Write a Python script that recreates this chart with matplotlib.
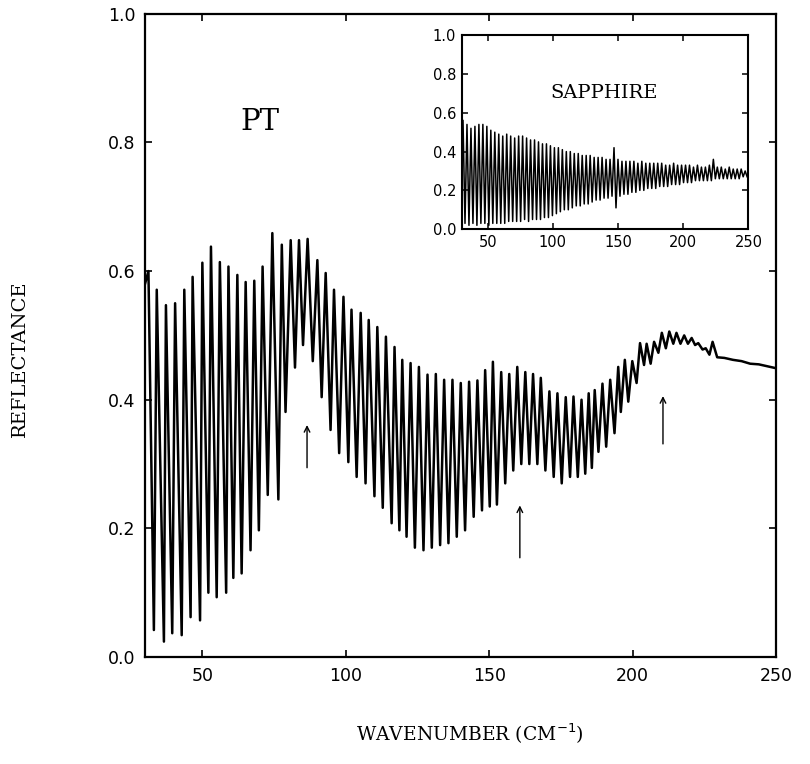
import numpy as np
import matplotlib.pyplot as plt

# PT film: wavenumber (cm^-1) and reflectance at each fringe top / bottom
pt_wn = [30.0, 31.2, 33.1, 34.1, 36.6, 37.3, 39.5, 40.5, 42.8, 43.7, 45.9, 46.6, 49.2,
         50.0, 52.1, 53.0, 55.0, 56.1, 58.3, 59.1, 60.8, 62.2, 63.7, 65.1, 66.8, 68.1,
         69.7, 71.0, 72.8, 74.4, 76.5, 77.7, 79.0, 80.8, 82.3, 83.7, 85.1, 86.7, 88.5,
         90.1, 91.6, 93.0, 94.7, 95.9, 97.7, 99.2, 100.9, 102.0, 103.8, 105.2, 106.9,
         108.0, 110.0, 111.0, 112.9, 114.0, 116.0, 117.0, 118.7, 119.7, 121.2, 122.6,
         124.1, 125.5, 127.1, 128.5, 130.0, 131.4, 132.9, 134.3, 135.8, 137.2, 138.7,
         140.1, 141.6, 143.0, 144.6, 145.9, 147.5, 148.6, 150.2, 151.3, 152.7, 154.2,
         155.6, 157.0, 158.4, 159.8, 161.2, 162.6, 164.0, 165.3, 166.8, 168.0, 169.6,
         171.0, 172.5, 173.8, 175.3, 176.7, 178.2, 179.4, 180.9, 182.2, 183.5, 184.7,
         185.8, 186.8, 188.1, 189.5, 190.8, 192.2, 193.7, 195.0, 195.9, 197.3, 198.5,
         199.9, 201.4, 202.6, 204.0, 204.9, 206.3, 207.5, 209.0, 210.2, 211.6, 212.8,
         214.2, 215.3, 216.7, 218.0, 219.3, 220.6, 221.8, 222.9, 224.4, 225.5, 226.8,
         227.9, 229.5, 232.0, 235.0, 238.0, 241.0, 244.0, 247.0, 250.0]
pt_r = [0.58, 0.60, 0.042, 0.571, 0.024, 0.547, 0.037, 0.55, 0.034, 0.571, 0.062, 0.591, 0.057,
        0.613, 0.10, 0.638, 0.093, 0.614, 0.10, 0.607, 0.123, 0.594, 0.13, 0.583, 0.166, 0.585,
        0.197, 0.607, 0.252, 0.659, 0.245, 0.641, 0.381, 0.648, 0.45, 0.648, 0.485, 0.65, 0.46,
        0.617, 0.404, 0.597, 0.353, 0.571, 0.317, 0.56, 0.303, 0.54, 0.28, 0.535, 0.27,
        0.524, 0.25, 0.513, 0.232, 0.498, 0.208, 0.482, 0.197, 0.462, 0.187, 0.457,
        0.17, 0.451, 0.166, 0.439, 0.17, 0.44, 0.174, 0.431, 0.177, 0.431, 0.187,
        0.426, 0.197, 0.428, 0.218, 0.43, 0.228, 0.446, 0.234, 0.459, 0.237, 0.443,
        0.27, 0.44, 0.29, 0.451, 0.30, 0.443, 0.30, 0.44, 0.30, 0.434, 0.29,
        0.413, 0.28, 0.41, 0.27, 0.404, 0.28, 0.405, 0.28, 0.40, 0.285, 0.41,
        0.294, 0.415, 0.319, 0.425, 0.327, 0.431, 0.348, 0.451, 0.381, 0.462, 0.397,
        0.46, 0.426, 0.488, 0.454, 0.487, 0.456, 0.49, 0.473, 0.504, 0.48, 0.506,
        0.487, 0.504, 0.487, 0.50, 0.487, 0.496, 0.485, 0.488, 0.478, 0.48, 0.47,
        0.49, 0.466, 0.465, 0.462, 0.46, 0.456, 0.455, 0.452, 0.449]

# sapphire inset: top and bottom of each fringe, left to right
sap_top = [0.56, 0.54, 0.52, 0.53, 0.54, 0.54, 0.53, 0.51, 0.50, 0.49,
           0.48, 0.49, 0.48, 0.47, 0.48, 0.48, 0.47, 0.46, 0.46, 0.45,
           0.44, 0.44, 0.43, 0.42, 0.42, 0.41, 0.40, 0.40, 0.39, 0.39,
           0.38, 0.38, 0.38, 0.37, 0.37, 0.37, 0.36, 0.36, 0.42, 0.36,
           0.35, 0.35, 0.35, 0.35, 0.34, 0.35, 0.34, 0.34, 0.34, 0.34,
           0.34, 0.33, 0.33, 0.34, 0.33, 0.33, 0.33, 0.33, 0.32, 0.33,
           0.32, 0.32, 0.33, 0.36, 0.32, 0.32, 0.31, 0.32, 0.31, 0.31, 0.31, 0.30]
sap_bot = [0.03, 0.02, 0.03, 0.02, 0.03, 0.03, 0.02, 0.03, 0.03, 0.03,
           0.03, 0.04, 0.04, 0.04, 0.04, 0.05, 0.04, 0.05, 0.05, 0.05,
           0.06, 0.06, 0.07, 0.08, 0.09, 0.10, 0.10, 0.11, 0.12, 0.12,
           0.13, 0.13, 0.14, 0.15, 0.15, 0.16, 0.16, 0.17, 0.11, 0.17,
           0.18, 0.18, 0.19, 0.19, 0.20, 0.20, 0.21, 0.21, 0.21, 0.22,
           0.22, 0.22, 0.23, 0.23, 0.23, 0.24, 0.24, 0.24, 0.25, 0.25,
           0.25, 0.25, 0.25, 0.26, 0.26, 0.26, 0.26, 0.26, 0.26, 0.26, 0.27, 0.27]

# arrows: x, tail y, head y
arrow_x = [86.5, 160.7, 210.6]
arrow_tail = [0.29, 0.15, 0.327]
arrow_head = [0.365, 0.24, 0.41]

serif = 'DejaVu Serif'

fig = plt.figure(figsize=(8.1, 7.64), dpi=100)
ax = fig.add_axes([0.179, 0.140, 0.779, 0.842])
ax.plot(pt_wn, pt_r, color='black', lw=1.8)
for x, y0, y1 in zip(arrow_x, arrow_tail, arrow_head):
    ax.annotate('', xy=(x, y1), xytext=(x, y0),
                arrowprops=dict(arrowstyle='->', color='black', lw=1.0))
ax.set_xlim(30, 250)
ax.set_ylim(0, 1.0)
ax.set_xticks([50, 100, 150, 200, 250])
ax.set_yticks([0.0, 0.2, 0.4, 0.6, 0.8, 1.0])
ax.set_yticklabels(['0.0', '0.2', '0.4', '0.6', '0.8', '1.0'])
ax.tick_params(direction='in', top=True, right=True, length=5, width=1.2, labelsize=12.5, pad=7)
for s in ax.spines.values():
    s.set_linewidth(1.6)
ax.text(70, 0.832, 'PT', fontsize=21, family=serif, ha='center', va='center')

# inset
ins = fig.add_axes([0.570, 0.700, 0.354, 0.254])
n = len(sap_top)
sap_x = np.linspace(31, 249, 2 * n)
sap_r = []
for t, b in zip(sap_top, sap_bot):
    sap_r += [t, b]
ins.plot(sap_x, sap_r, color='black', lw=1.1)
ins.set_xlim(30, 250)
ins.set_ylim(0, 1.0)
ins.set_xticks([50, 100, 150, 200, 250])
ins.set_yticks([0.0, 0.2, 0.4, 0.6, 0.8, 1.0])
ins.set_yticklabels(['0.0', '0.2', '0.4', '0.6', '0.8', '1.0'])
ins.tick_params(direction='in', top=True, right=True, length=4, width=1.1, labelsize=10.5, pad=4)
for s in ins.spines.values():
    s.set_linewidth(1.5)
ins.text(139.6, 0.70, 'SAPPHIRE', fontsize=14, family=serif, ha='center', va='center')

fig.text(0.58, 0.04, 'WAVENUMBER (CM$^{-1}$)', fontsize=13.5, family=serif, ha='center', va='center')
fig.text(0.025, 0.53, 'REFLECTANCE', fontsize=14, family=serif, rotation=90, ha='center', va='center')

fig.savefig('out.png', dpi=100)
